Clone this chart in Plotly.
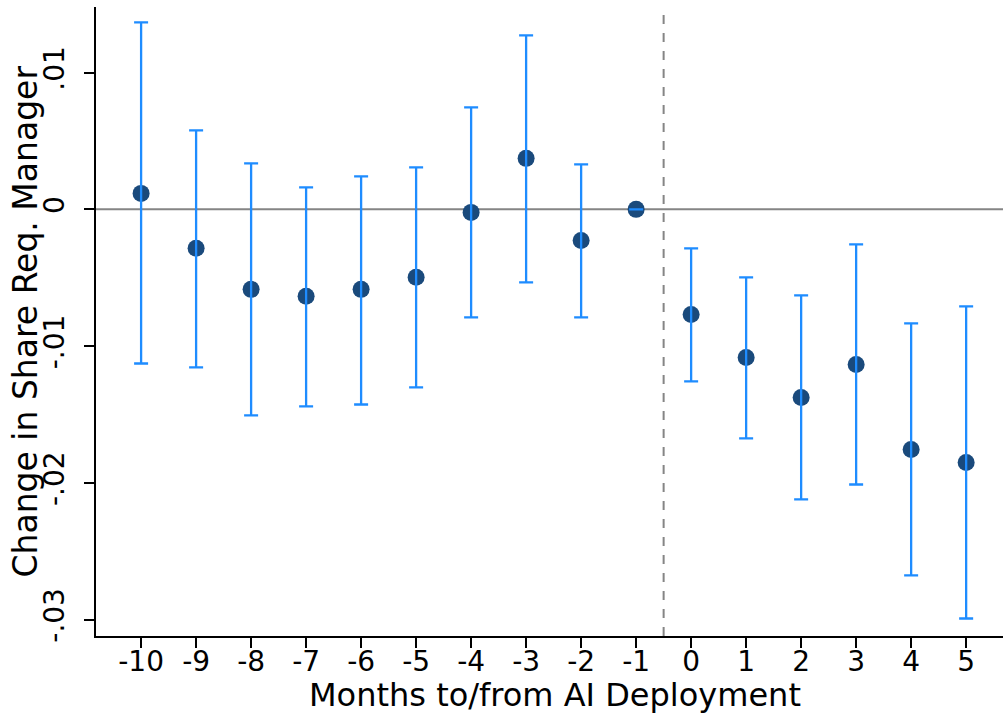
import plotly.graph_objects as go

# event-study estimates
months = [-10, -9, -8, -7, -6, -5, -4, -3, -2, -1, 0, 1, 2, 3, 4, 5]
coef = [0.00117, -0.00285, -0.00585, -0.00636, -0.00585, -0.00497, -0.00022, 0.00373,
        -0.00227, 0.0, -0.00768, -0.01083, -0.01375, -0.01134, -0.01756, -0.01851]
ci_hi = [0.01368, 0.00578, 0.00337, 0.00161, 0.00241, 0.00307, 0.00746, 0.01273,
         0.00329, 0.0, -0.00285, -0.00497, -0.00629, -0.00256, -0.00834, -0.00710]
ci_lo = [-0.01127, -0.01156, -0.01507, -0.01441, -0.01427, -0.01302, -0.0079, -0.00534,
         -0.0079, 0.0, -0.01258, -0.01675, -0.02121, -0.02012, -0.02677, -0.02992]

y_ticks = [0.01, 0.0, -0.01, -0.02, -0.03]
y_labels = [".01", "0", "-.01", "-.02", "-.03"]
x_labels = [str(m) for m in months]

x_title = "Months to/from AI Deployment"
y_title = "Change in Share Req. Manager"

font = "DejaVu Sans"

fig = go.Figure()
# point estimates
fig.add_trace(
    go.Scatter(
        x=months,
        y=coef,
        mode="markers",
        marker=dict(color="#1a4a7c", size=17),
        showlegend=False,
    )
)
# confidence intervals, drawn on top of the dots like the original
fig.add_trace(
    go.Scatter(
        x=months,
        y=coef,
        mode="markers",
        marker=dict(size=1, opacity=0),
        error_y=dict(
            type="data",
            symmetric=False,
            array=[h - c for h, c in zip(ci_hi, coef)],
            arrayminus=[c - l for c, l in zip(coef, ci_lo)],
            color="#1e8cff",
            thickness=2.3,
            width=7,
        ),
        showlegend=False,
    )
)

fig.add_hline(y=0, line=dict(color="#858585", width=2), layer="below")
fig.add_vline(x=-0.5, line=dict(color="#858585", width=2, dash="dash"), layer="below")

axis_style = dict(
    ticks="outside",
    ticklen=10,
    tickwidth=2,
    tickcolor="black",
    showline=True,
    linecolor="black",
    linewidth=2,
    showgrid=False,
    zeroline=False,
    automargin=False,
)

fig.update_layout(
    width=1005,
    height=721,
    plot_bgcolor="white",
    paper_bgcolor="white",
    margin=dict(l=96, r=2, t=7, b=85, autoexpand=False),
    font=dict(family=font, size=28, color="black"),
    xaxis=dict(
        range=[-10.82, 5.67],
        tickvals=months,
        ticktext=x_labels,
        ticklabelstandoff=-11,
        **axis_style,
    ),
    yaxis=dict(
        range=[-0.0312, 0.0148],
        tickvals=y_ticks,
        ticktext=y_labels,
        tickangle=-90,
        ticklabelstandoff=9,
        **axis_style,
    ),
    annotations=[
        dict(
            text=x_title,
            x=0.5, xref="paper", xanchor="center", xshift=5,
            y=0, yref="paper", yanchor="middle", yshift=-59,
            showarrow=False,
            font=dict(size=32),
        ),
        dict(
            text=y_title,
            x=0, xref="paper", xanchor="center", xshift=-71,
            y=0.5, yref="paper", yanchor="middle",
            textangle=-90,
            showarrow=False,
            font=dict(size=33),
        ),
    ],
)

# drop the default page margin so the figure sits at the window's corner
fig.write_html(
    "out.html",
    config={"displayModeBar": False},
    post_script="document.body.style.margin = '0';",
)
